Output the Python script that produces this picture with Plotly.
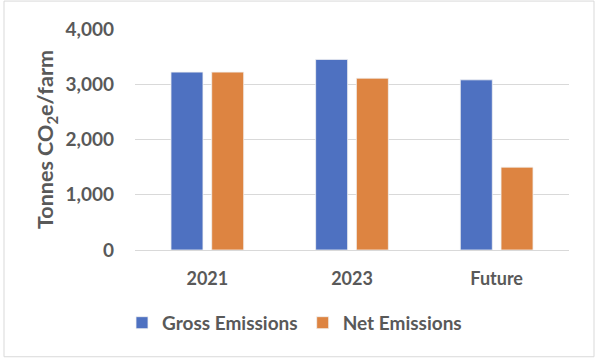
import plotly.graph_objects as go

categories = ["2021", "2023", "Future"]
gross = [3220, 3450, 3080]
net = [3220, 3110, 1500]
y_ticks = [0, 1000, 2000, 3000, 4000]
y_tick_labels = ["0", "1,000", "2,000", "3,000", "4,000"]

FONT = "Lato, 'Liberation Sans', sans-serif"
GRAY = "#595959"

fig = go.Figure()
fig.add_trace(go.Bar(name="Gross Emissions", x=categories, y=gross,
                     marker=dict(color="#4E71C1", line=dict(color="#F2F2F2", width=0.8))))
fig.add_trace(go.Bar(name="Net Emissions", x=categories, y=net,
                     marker=dict(color="#DD8441", line=dict(color="#F2F2F2", width=0.8))))

L, R, T, B = 135, 31, 28.5, 111
W, H = 600, 361
pw, ph = W - L - R, H - T - B

fig.update_layout(
    width=W, height=H,
    margin=dict(l=L, r=R, t=T, b=B, pad=0, autoexpand=False),
    paper_bgcolor="white", plot_bgcolor="white",
    barmode="group", bargap=0.437, bargroupgap=0.214,
    font=dict(family=FONT, color=GRAY),
    showlegend=True,
    legend=dict(orientation="h", x=(122 - L) / pw, xanchor="left",
                y=(H - B - 323) / ph, yanchor="middle",
                font=dict(size=19, family=FONT, color=GRAY, weight="bold"),
                itemwidth=30, traceorder="normal", bgcolor="rgba(0,0,0,0)"),
    xaxis=dict(showgrid=False, showline=False, ticks="", automargin=False,
               ticklabelstandoff=16,
               tickfont=dict(size=18, family=FONT, color=GRAY, weight="bold")),
    yaxis=dict(range=[0, 4000], tickvals=y_ticks, ticktext=y_tick_labels,
               automargin=False,
               showgrid=True, gridcolor="#D9D9D9", gridwidth=1,
               zeroline=True, zerolinecolor="#D9D9D9", zerolinewidth=1,
               showline=False, ticks="", ticklabelstandoff=20,
               tickfont=dict(size=19, family=FONT, color=GRAY, weight="bold"),
               title=dict(text="Tonnes CO<sub>2</sub>e/farm", standoff=5,
                          font=dict(size=21.5, family=FONT, color=GRAY, weight="bold"))),
    shapes=[dict(type="rect", xref="paper", yref="paper",
                 x0=(4 - L) / pw, x1=(594 - L) / pw,
                 y0=(H - B - 357) / ph, y1=(H - B - 0.5) / ph,
                 line=dict(color="#D9D9D9", width=1), fillcolor="rgba(0,0,0,0)", layer="below")],
)

fig.write_html("out.html", config={"displayModeBar": False},
               post_script="document.body.style.margin='0';document.body.style.padding='0';")
